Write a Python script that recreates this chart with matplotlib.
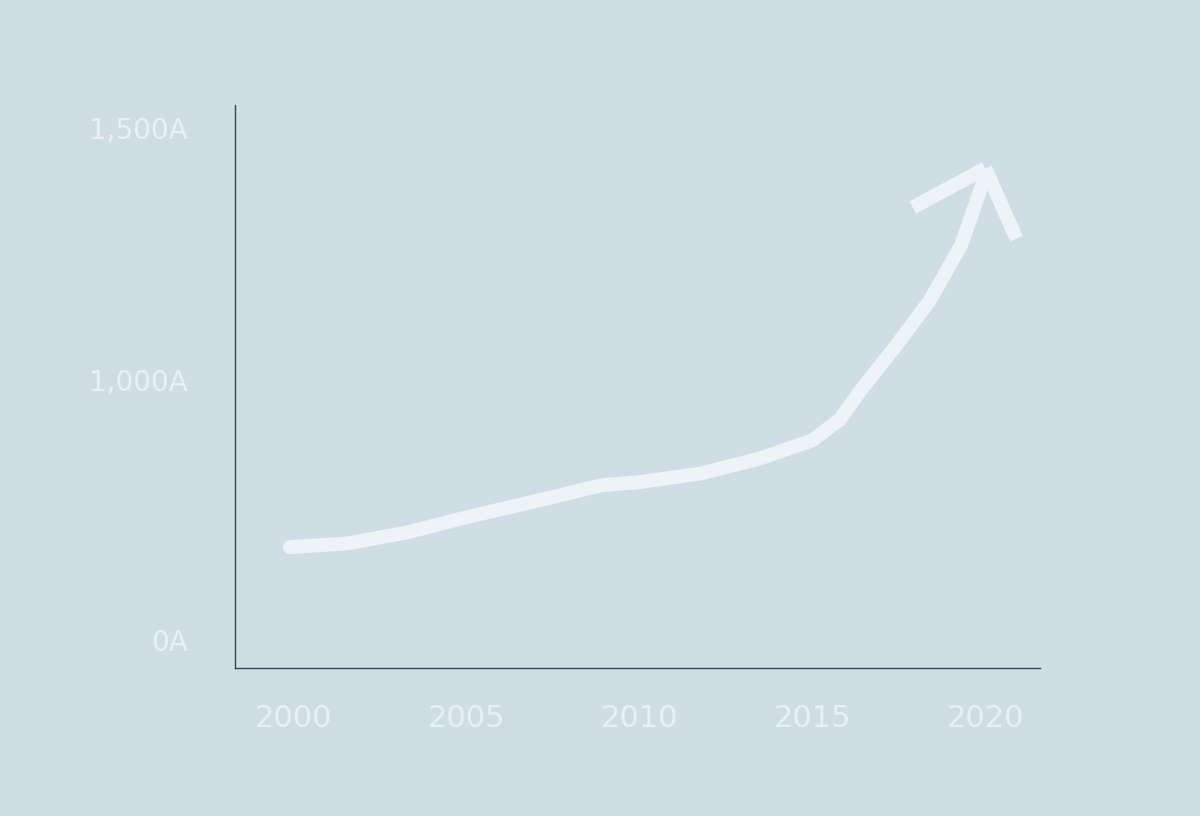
import matplotlib
matplotlib.use("Agg")
import matplotlib.pyplot as plt

years = [1999.9, 2001.6, 2003.3, 2005.0, 2007.0, 2008.9, 2010.0, 2011.8, 2013.5, 2015.0, 2015.8, 2016.4, 2017.4, 2018.4, 2019.3, 2020.0]
values = [358, 373, 415, 473, 535, 596, 608, 642, 700, 769, 850, 962, 1130, 1308, 1520, 1788]
head_left = ([2017.9, 2020.0], [1665, 1815])
head_right = ([2020.9, 2020.0], [1545, 1815])
xticks = [2000, 2005, 2010, 2015, 2020]
xlabels = ["2000", "2005", "2010", "2015", "2020"]
yticks = [0, 1000, 1970]
ylabels = ["0A", "1,000A", "1,500A"]

bg = "#cfdee5"
fg = "#edf3f6"
fig = plt.figure(figsize=(12, 8.16), dpi=100, facecolor=bg)
ax = fig.add_axes([0.196, 0.181, 0.671, 0.69], facecolor=bg)
ax.plot(years, values, color=fg, lw=10, solid_capstyle="round", solid_joinstyle="round")
for hx, hy in (head_left, head_right):
    ax.plot(hx, hy, color=fg, lw=10, solid_capstyle="butt", solid_joinstyle="miter")
ax.set_xlim(1998.32, 2021.59)
ax.set_ylim(-108, 2058)
ax.set_xticks(xticks, xlabels)
ax.set_yticks(yticks, ylabels)
ax.tick_params(length=0, colors="#e9f0f4")
ax.tick_params(axis="x", labelsize=22, pad=26)
ax.tick_params(axis="y", labelsize=20, pad=34)
for s in ("top", "right"):
    ax.spines[s].set_visible(False)
for s in ("left", "bottom"):
    ax.spines[s].set_color("#34454f")
    ax.spines[s].set_linewidth(1)
fig.savefig("out.png", facecolor=bg)
